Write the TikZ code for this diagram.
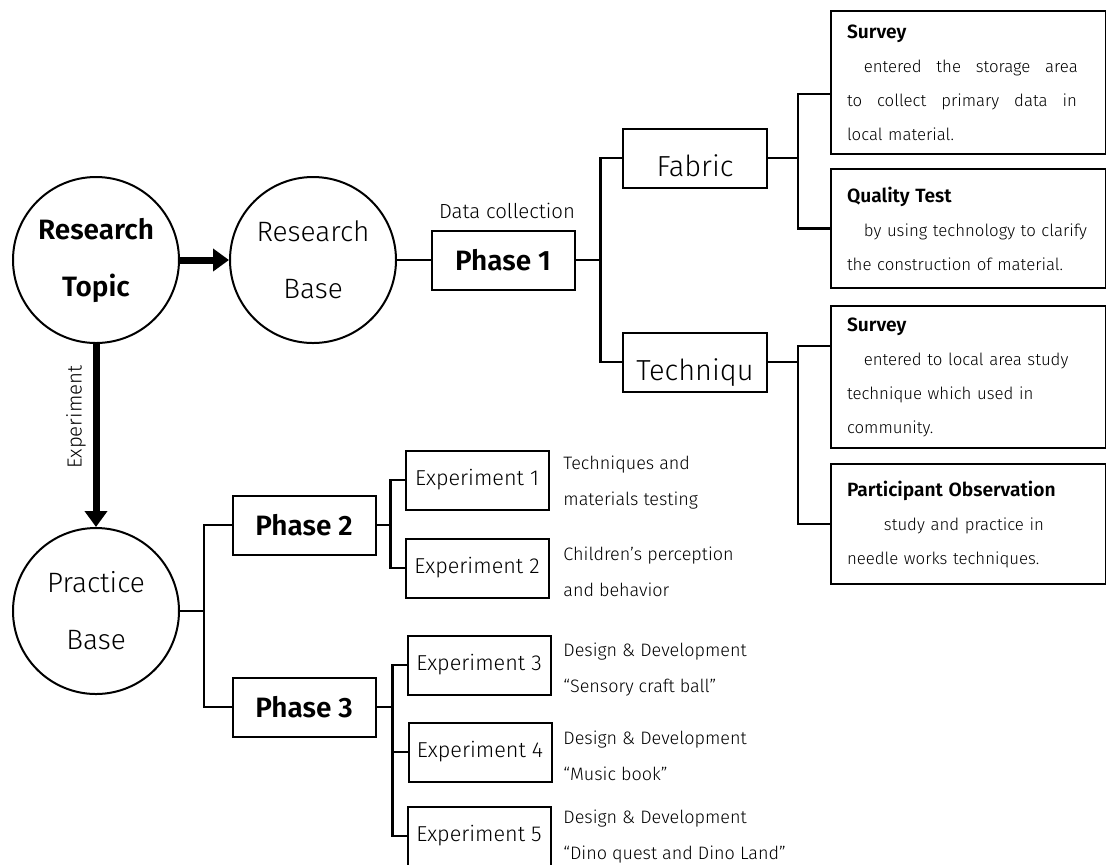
\documentclass[tikz,border=0pt]{standalone}
\usepackage{fontspec}
\IfFontExistsTF{Fira Sans Light}{%
  \IfFontExistsTF{Fira Sans SemiBold}{%
    \setmainfont{Fira Sans Light}[BoldFont={Fira Sans SemiBold}]}{%
    \setmainfont{Fira Sans Light}[BoldFont={Fira Sans}]}}{%
  \setmainfont{DejaVu Sans}}
\usepackage{tikz}
\usetikzlibrary{arrows.meta}
\newcommand\notetitle[1]{{\fontsize{9.6}{17}\selectfont\bfseries #1}}
\newcommand\fullline[2]{\makebox[#1][s]{\spaceskip=0pt plus 1fil #2}}

\begin{document}
\begin{tikzpicture}[x=0.5pt,y=-0.5pt,
  topic/.style={draw,circle,line width=1pt,minimum size=83pt,inner sep=0pt,align=center,font=\fontsize{14}{28.5}\selectfont},
  phasebox/.style={draw,line width=1pt,minimum width=71.5pt,minimum height=29.5pt,font=\fontsize{14}{16}\selectfont\bfseries},
  expbox/.style={draw,line width=1pt,minimum width=71.5pt,minimum height=29.5pt,font=\fontsize{10.8}{12}\selectfont},
  kindbox/.style={draw,line width=1pt,minimum width=72pt,minimum height=29.5pt,font=\fontsize{14.5}{16}\selectfont,text height=20pt,text depth=2pt},
  notebox/.style={draw,line width=1pt,anchor=north west,text width=121.5pt,inner xsep=8pt,align=left,font=\fontsize{8.4}{17}\selectfont},
  note/.style={anchor=west,align=left,inner sep=0pt,font=\fontsize{9}{18}\selectfont},
  conn/.style={line width=1.4pt},
  bigarrow/.style={line width=3.5pt,-{Triangle[length=8pt,width=11pt]}}]
\useasboundingbox (0,0) rectangle (1106,864);
\node[topic] (rtopic) at (96,260) {\textbf{Research}\\\textbf{Topic}};
\node[topic] (rbase) at (313,260) {Research\\Base};
\node[topic] (pbase) at (96,611) {Practice\\Base};
\node[phasebox] (ph1) at (503,260) {Phase 1};
\node[font=\fontsize{10.2}{12}\selectfont] (dc) at (507,211) {Data collection};
\node[kindbox] (fab) at (695,158) {Fabric};
\node[kindbox] (tec) at (695,362) {Techniqu};
\node[notebox,minimum height=71.5pt] (sv1) at (830,10) {\notetitle{Survey}\\
  \hspace*{1em}\fullline{107pt}{entered the storage area}\\
  \fullline{115pt}{to collect primary data in}\\
  local material.};
\node[notebox,minimum height=59.5pt] (qt) at (830,168) {\notetitle{Quality Test}\\
  \hspace*{1em}by using technology to clarify\\
  the construction of material.};
\node[notebox,minimum height=71pt] (sv2) at (830,305) {\notetitle{Survey}\\
  \hspace*{1em}entered to local area study\\
  technique which used in\\
  community.};
\node[notebox,minimum height=60pt] (po) at (830,463) {\notetitle{Participant Observation}\\
  \hspace*{2.2em}study and practice in\\
  needle works techniques.};
\node[phasebox] (ph2) at (304,525) {Phase 2};
\node[phasebox] (ph3) at (304,707) {Phase 3};
\node[expbox] (ex1) at (477,480) {Experiment 1};
\node[expbox] (ex2) at (477,568) {Experiment 2};
\node[expbox] (ex3) at (479,665) {Experiment 3};
\node[expbox] (ex4) at (480,752) {Experiment 4};
\node[expbox] (ex5) at (479,836) {Experiment 5};
\node[note] (n1) at (563,483) {Techniques and\\materials testing};
\node[note] (n2) at (563,572) {Children’s perception\\and behavior};
\node[note] (n3) at (563,670) {Design \& Development\\“Sensory craft ball”};
\node[note] (n4) at (563,756) {Design \& Development\\“Music book”};
\node[note] (n5) at (563,837) {Design \& Development\\“Dino quest and Dino Land”};
\draw[bigarrow] (rtopic) -- (rbase);
\draw[bigarrow] (rtopic) -- node[pos=0.4,rotate=90,above,font=\fontsize{10.2}{12}\selectfont] (exlab) {Experiment} (pbase);
\draw[conn] (rbase) -- (ph1);
\draw[conn] (ph1.east) -- ++(25,0) coordinate (j1);
\draw[conn] (fab.west) -| (j1) |- (tec.west);
\draw[conn] (fab.east) -- ++(30,0) coordinate (j2);
\draw[conn] ([yshift=-5.75pt]sv1.west) -| (j2) |- (qt.west);
\draw[conn] (tec.east) -- ++(30,0) coordinate (j3);
\draw[conn] ([yshift=15.5pt]sv2.west) -| (j3) |- (po.west);
\draw[conn] (pbase.east) -- ++(24,0) coordinate (j4);
\draw[conn] (ph2.west) -| (j4) |- (ph3.west);
\draw[conn] (ph2.east) -- ++(14,0) coordinate (j5);
\draw[conn] (ex1.west) -| (j5) |- (ex2.west);
\draw[conn] (ph3.east) -- ++(16,0) coordinate (j6);
\draw[conn] (ex3.west) -| (j6) |- (ex5.west);
\draw[conn] (ex4.west) -- (ex4.west -| j6);
\end{tikzpicture}
\end{document}
